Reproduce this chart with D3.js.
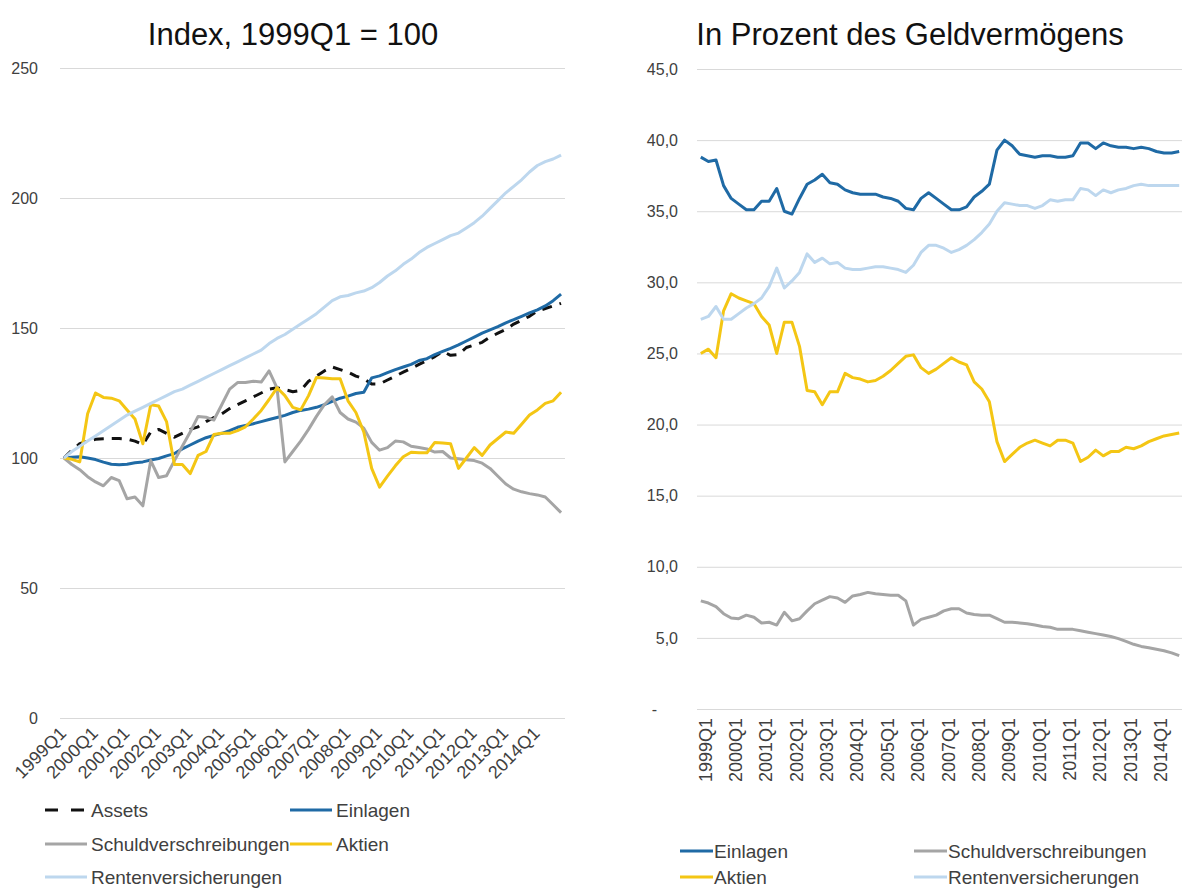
<!DOCTYPE html>
<html>
<head>
<meta charset="utf-8">
<script src="https://cdn.jsdelivr.net/npm/d3@7"></script>
<style>
  body { margin: 0; background: #fff; }
  svg { font-family: "Liberation Sans", Arial, sans-serif; }
</style>
</head>
<body>
<svg id="chart" width="1182" height="890"></svg>
<script>
// categories: 1999Q1 .. 2014Q4
var quarters = [];
for (var yr = 1999; yr <= 2014; yr++) for (var q = 1; q <= 4; q++) quarters.push(yr + "Q" + q);

// left panel: Index, 1999Q1 = 100
var idxAssets = [100,103,105.5,106.5,107.2,107.4,107.5,107.5,107.3,106.5,
  105.2,110,111,109.5,108,109.5,111,112,114,115.5,
  117,119,120.5,122,123.5,125,126.5,127,126.3,125.5,
  126,129.5,131.5,133.5,135,134,133,131.5,130.5,128.5,
  128.5,130,131.5,133,134.5,136,137.5,139,141,139.5,
  139.8,142.5,143.5,144.5,146.5,148,149.5,151.5,153,154.5,
  156.5,157.5,158.5,159.5];
var idxEinlagen = [100,100.3,100.5,100,99.4,98.4,97.6,97.4,97.6,98.2,
  98.5,99.2,99.8,100.8,101.7,103.5,105,106.5,107.8,108.7,
  109.5,110.5,111.8,112.5,113.2,114,114.8,115.6,116.4,117.5,
  118.3,118.8,119.5,120.5,121.8,123,123.8,124.8,125.3,130.8,
  131.6,132.8,134,135,136,137.5,138.2,139.8,141,142.2,
  143.5,145,146.5,148,149.3,150.5,152,153.2,154.5,155.8,
  157,158.5,160.5,163];
var idxSchuld = [100,97.5,95.5,92.8,90.8,89.3,92.5,91.3,84.3,85,
  81.6,99,92.5,93.2,99,104.5,110,116,115.7,114.6,
  120.5,126.5,129,129,129.5,129.2,133.5,127,98.5,102.5,
  106.5,111,116,120.5,123.5,117.5,115,113.8,111.5,106,
  103,104,106.5,106.2,104.5,104,103.5,102.3,102.5,100,
  99.7,99.3,99,98,96,93,90,88,87,86.3,
  85.8,85,82,79];
var idxAktien = [100,99.5,98.5,117,125,123.3,123,122,118.5,115,
  105.5,120.5,120,114,97.5,97.5,94,101,102.5,109,
  109.5,109.5,110.5,112,115,118.3,122.5,127,124,119.5,
  118.5,124,131,130.8,130.5,130.5,122,117.5,110,96,
  88.8,93,97,100.5,102.2,102,102,106,105.8,105.5,
  96,100,104,101,105,107.5,110,109.5,113,116.5,
  118.5,121,122,125.3];
var idxRenten = [100,102.5,104.5,106.5,108.5,110.5,112.5,114.5,116.5,118,
  119.5,121,122.5,124,125.5,126.5,128,129.5,131,132.5,
  134,135.5,137,138.5,140,141.5,144,146,147.5,149.5,
  151.5,153.5,155.5,158,160.5,162,162.5,163.5,164.2,165.5,
  167.5,170,172,174.5,176.5,179,181,182.5,184,185.5,
  186.5,188.5,190.5,193,196,199,202,204.5,207,210,
  212.5,214,215,216.5];

// right panel: In Prozent des Geldvermögens
var shareEinlagen = [38.8,38.5,38.6,36.8,35.9,35.5,35.1,35.1,35.7,35.7,
  36.6,35.0,34.8,35.9,36.9,37.2,37.6,37.0,36.9,36.5,
  36.3,36.2,36.2,36.2,36.0,35.9,35.7,35.2,35.1,35.9,
  36.3,35.9,35.5,35.1,35.1,35.3,36.0,36.4,36.9,39.3,
  40.0,39.6,39.0,38.9,38.8,38.9,38.9,38.8,38.8,38.9,
  39.8,39.8,39.4,39.8,39.6,39.5,39.5,39.4,39.5,39.4,
  39.2,39.1,39.1,39.2];
var shareSchuld = [7.6,7.45,7.2,6.7,6.4,6.35,6.6,6.45,6.05,6.1,
  5.9,6.8,6.2,6.35,6.9,7.4,7.65,7.9,7.8,7.5,
  7.95,8.05,8.2,8.1,8.05,8.0,8.0,7.6,5.9,6.3,
  6.45,6.6,6.9,7.05,7.05,6.75,6.65,6.6,6.6,6.35,
  6.1,6.1,6.05,6.0,5.9,5.8,5.75,5.6,5.6,5.6,
  5.5,5.4,5.3,5.2,5.1,4.95,4.75,4.55,4.4,4.3,
  4.2,4.1,3.95,3.75];
var shareAktien = [25.0,25.3,24.7,28.0,29.2,28.9,28.7,28.5,27.6,27.0,
  25.0,27.2,27.2,25.5,22.4,22.3,21.4,22.3,22.3,23.6,
  23.3,23.2,23.0,23.1,23.4,23.8,24.3,24.8,24.9,24.0,
  23.6,23.9,24.3,24.7,24.4,24.2,23.0,22.5,21.6,18.8,
  17.4,17.9,18.4,18.7,18.9,18.7,18.5,18.9,18.9,18.7,
  17.4,17.7,18.2,17.8,18.1,18.1,18.4,18.3,18.5,18.8,
  19.0,19.2,19.3,19.4];
var shareRenten = [27.4,27.6,28.3,27.4,27.4,27.8,28.2,28.5,28.9,29.7,
  31.0,29.6,30.1,30.7,32.0,31.4,31.7,31.3,31.4,31.0,
  30.9,30.9,31.0,31.1,31.1,31.0,30.9,30.7,31.2,32.1,
  32.6,32.6,32.4,32.1,32.3,32.6,33.0,33.5,34.1,35.0,
  35.6,35.5,35.4,35.4,35.2,35.4,35.8,35.7,35.8,35.8,
  36.6,36.5,36.1,36.5,36.3,36.5,36.6,36.8,36.9,36.8,
  36.8,36.8,36.8,36.8];

var leftTicks = [0, 50, 100, 150, 200, 250];
var rightTicks = [0, 5, 10, 15, 20, 25, 30, 35, 40, 45];

var C = {
  assets: "#111111",
  einlagen: "#1f6aa5",
  schuld: "#a5a5a5",
  aktien: "#f4c614",
  renten: "#bdd7ee",
  grid: "#d9d9d9",
  text: "#404040"
};

var svg = d3.select("#chart");

//-----------------------------------------------------
// left panel
//-----------------------------------------------------
var xL = d3.scalePoint().domain(quarters).range([60, 565]).padding(0.5);
var yL = d3.scaleLinear().domain([0, 250]).range([718, 68]);

svg.append("text")
  .attr("x", 293).attr("y", 45)
  .attr("text-anchor", "middle")
  .style("font-size", "31px").style("fill", "#111")
  .text("Index, 1999Q1 = 100");

var gyL = svg.append("g")
  .attr("transform", "translate(60,0)")
  .call(d3.axisLeft(yL).tickValues(leftTicks).tickSize(-505).tickPadding(22).tickFormat(d3.format("d")));
gyL.select(".domain").remove();
gyL.selectAll("line").attr("stroke", C.grid);
gyL.selectAll("text").style("font-size", "16px").style("fill", C.text).style("font-family", "Liberation Sans, Arial, sans-serif");

svg.append("g").selectAll("text")
  .data(quarters.filter(function(d, i) { return i % 4 == 0; }))
  .enter().append("text")
    .attr("transform", function(d) { return "translate(" + (xL(d) - 1) + ",730) rotate(-45)"; })
    .attr("text-anchor", "end")
    .attr("dy", "0.35em")
    .style("font-size", "18px").style("fill", C.text)
    .text(function(d) { return d; });

var leftSeries = [
  {name: "Assets", values: idxAssets, color: C.assets, dash: "10,8"},
  {name: "Einlagen", values: idxEinlagen, color: C.einlagen},
  {name: "Schuldverschreibungen", values: idxSchuld, color: C.schuld},
  {name: "Aktien", values: idxAktien, color: C.aktien},
  {name: "Rentenversicherungen", values: idxRenten, color: C.renten}
];

var lineL = d3.line()
  .x(function(d, i) { return xL(quarters[i]); })
  .y(function(d) { return yL(d); });

svg.append("g").selectAll("path")
  .data(leftSeries)
  .enter().append("path")
    .attr("d", function(s) { return lineL(s.values); })
    .attr("fill", "none")
    .attr("stroke", function(s) { return s.color; })
    .attr("stroke-width", 3)
    .attr("stroke-linejoin", "round")
    .attr("stroke-dasharray", function(s) { return s.dash || null; });

// left legend
var legL = [
  {s: leftSeries[0], x: 45, y: 810},
  {s: leftSeries[1], x: 290, y: 810},
  {s: leftSeries[2], x: 45, y: 844},
  {s: leftSeries[3], x: 290, y: 844},
  {s: leftSeries[4], x: 45, y: 877}
];
var lgL = svg.append("g").selectAll("g").data(legL).enter().append("g")
  .attr("transform", function(d) { return "translate(" + d.x + "," + d.y + ")"; });
lgL.append("line")
  .attr("x1", 0).attr("x2", 42).attr("y1", 0).attr("y2", 0)
  .attr("stroke", function(d) { return d.s.color; })
  .attr("stroke-width", 3)
  .attr("stroke-dasharray", function(d) { return d.s.dash ? "13,13" : null; });
lgL.append("text")
  .attr("x", 46).attr("dy", "0.35em")
  .style("font-size", "19px").style("fill", C.text)
  .text(function(d) { return d.s.name; });

//-----------------------------------------------------
// right panel
//-----------------------------------------------------
var xR = d3.scalePoint().domain(quarters).range([697, 1183]).padding(0.5);
var yR = d3.scaleLinear().domain([0, 45]).range([709, 69]);

svg.append("text")
  .attr("x", 910).attr("y", 45)
  .attr("text-anchor", "middle")
  .style("font-size", "31px").style("fill", "#111")
  .text("In Prozent des Geldvermögens");

var fmtR = function(d) { return d === 0 ? "-" : d3.format(".1f")(d).replace(".", ","); };
var gyR = svg.append("g")
  .attr("transform", "translate(697,0)")
  .call(d3.axisLeft(yR).tickValues(rightTicks).tickSize(-486).tickPadding(19).tickFormat(fmtR));
gyR.select(".domain").remove();
gyR.selectAll("line").attr("stroke", C.grid);
gyR.selectAll("text").style("font-size", "16px").style("fill", C.text).style("font-family", "Liberation Sans, Arial, sans-serif");
gyR.selectAll(".tick").filter(function(d) { return d === 0; }).select("text").attr("x", -40);

svg.append("g").selectAll("text")
  .data(quarters.filter(function(d, i) { return i % 4 == 0; }))
  .enter().append("text")
    .attr("transform", function(d) { return "translate(" + xR(d) + ",718) rotate(-90)"; })
    .attr("text-anchor", "end")
    .attr("dy", "0.6em")
    .style("font-size", "18px").style("fill", C.text)
    .text(function(d) { return d; });

var rightSeries = [
  {name: "Einlagen", values: shareEinlagen, color: C.einlagen},
  {name: "Schuldverschreibungen", values: shareSchuld, color: C.schuld},
  {name: "Aktien", values: shareAktien, color: C.aktien},
  {name: "Rentenversicherungen", values: shareRenten, color: C.renten}
];

var lineR = d3.line()
  .x(function(d, i) { return xR(quarters[i]); })
  .y(function(d) { return yR(d); });

svg.append("g").selectAll("path")
  .data(rightSeries)
  .enter().append("path")
    .attr("d", function(s) { return lineR(s.values); })
    .attr("fill", "none")
    .attr("stroke", function(s) { return s.color; })
    .attr("stroke-width", 3)
    .attr("stroke-linejoin", "round");

var legR = [
  {s: rightSeries[0], x: 680, y: 851},
  {s: rightSeries[1], x: 914, y: 851},
  {s: rightSeries[2], x: 680, y: 877},
  {s: rightSeries[3], x: 914, y: 877}
];
var lgR = svg.append("g").selectAll("g").data(legR).enter().append("g")
  .attr("transform", function(d) { return "translate(" + d.x + "," + d.y + ")"; });
lgR.append("line")
  .attr("x1", 0).attr("x2", 33).attr("y1", 0).attr("y2", 0)
  .attr("stroke", function(d) { return d.s.color; })
  .attr("stroke-width", 3);
lgR.append("text")
  .attr("x", 34).attr("dy", "0.35em")
  .style("font-size", "19px").style("fill", C.text)
  .text(function(d) { return d.s.name; });
</script>
</body>
</html>
